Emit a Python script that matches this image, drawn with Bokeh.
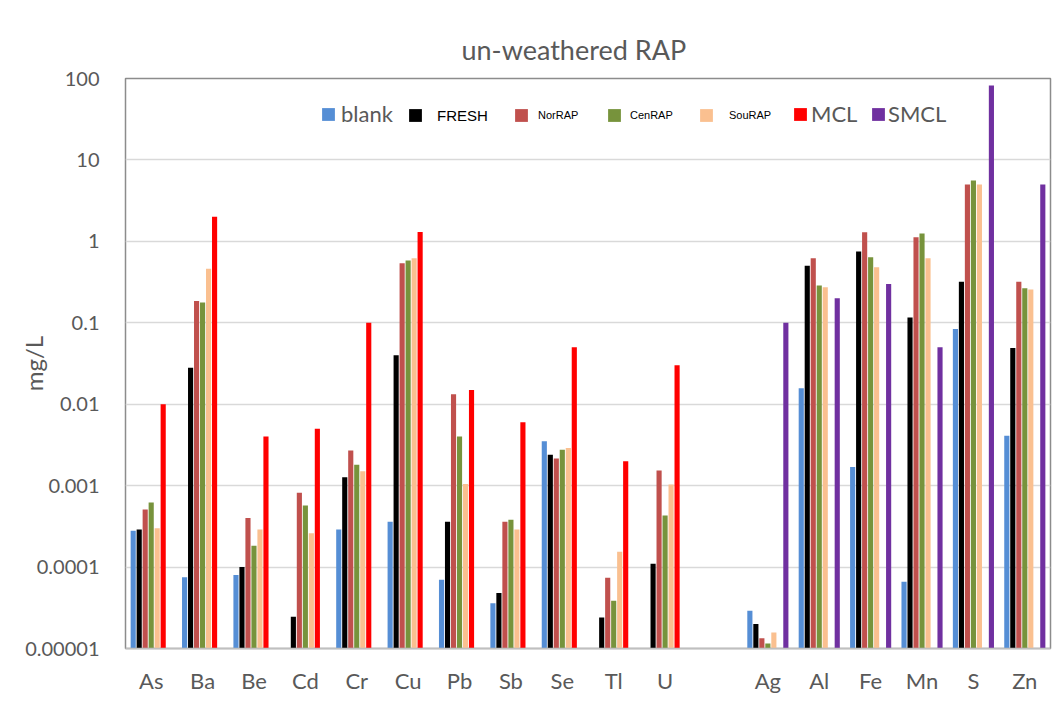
from bokeh.plotting import figure
from bokeh.models import (ColumnDataSource, FactorRange, Range1d, FixedTicker,
                          CustomJSTickFormatter, Legend, LegendItem)
from bokeh.transform import dodge
from bokeh.embed import file_html
from bokeh.resources import INLINE

nan = float("nan")

categories = ["As", "Ba", "Be", "Cd", "Cr", "Cu", "Pb", "Sb", "Se", "Tl", "U", " ",
              "Ag", "Al", "Fe", "Mn", "S", "Zn"]

blank = [0.00028, 0.000075, 0.00008, nan, 0.00029, 0.00036, 0.00007, 0.000036, 0.0035, nan, nan, nan,
         0.000029, 0.0157, 0.0017, 0.000066, 0.084, 0.0041]
fresh = [0.00029, 0.028, 0.0001, 0.0000245, 0.00127, 0.040, 0.00036, 0.000048, 0.0024, 0.000024, 0.00011, nan,
         0.00002, 0.50, 0.75, 0.116, 0.32, 0.049]
norrap = [0.00051, 0.185, 0.0004, 0.00082, 0.0027, 0.54, 0.0133, 0.00036, 0.00215, 0.000074, 0.00153, nan,
          0.0000134, 0.62, 1.29, 1.12, 5.0, 0.32]
cenrap = [0.00062, 0.178, 0.000183, 0.00057, 0.0018, 0.58, 0.004, 0.00038, 0.00275, 0.0000385, 0.00043, nan,
          0.0000115, 0.286, 0.64, 1.25, 5.6, 0.265]
sourap = [0.0003, 0.46, 0.00029, 0.00026, 0.0015, 0.62, 0.00105, 0.00029, 0.0029, 0.000154, 0.00103, nan,
          0.0000157, 0.274, 0.48, 0.62, 5.0, 0.257]
mcl = [0.01, 2.0, 0.004, 0.005, 0.1, 1.3, 0.015, 0.006, 0.05, 0.002, 0.03, nan,
       nan, nan, nan, nan, nan, nan]
smcl = [nan, nan, nan, nan, nan, nan, nan, nan, nan, nan, nan, nan,
        0.1, 0.2, 0.3, 0.05, 82.0, 5.0]

series_names = ["blank", "FRESH", "NorRAP", "CenRAP", "SouRAP", "MCL", "SMCL"]
series_values = [blank, fresh, norrap, cenrap, sourap, mcl, smcl]
series_colors = ["#558ED5", "#000000", "#C0504D", "#77933C", "#FAC090", "#FF0000", "#7030A0"]

y_ticks = [1e-5, 1e-4, 1e-3, 1e-2, 1e-1, 1, 10, 100]

TEXT = "#595959"
FONT = "Lato"

src = ColumnDataSource(dict(cat=categories, **{n: v for n, v in zip(series_names, series_values)}))

p = figure(width=1058, height=705, x_range=FactorRange(*categories),
           y_range=Range1d(1e-5, 100), y_axis_type="log",
           output_backend="svg", toolbar_location=None,
           min_border_left=125, min_border_right=8, min_border_top=78, min_border_bottom=57)

p.title.text = "un-weathered RAP"
p.title.align = "left"
p.title.text_font = FONT
p.title.text_font_size = "27px"
p.title.text_font_style = "normal"
p.title.text_color = TEXT
p.title.offset = 336
p.title.standoff = 26

p.outline_line_color = "#8c8c8c"
p.outline_line_width = 1.5
p.background_fill_color = "white"
p.border_fill_color = "white"

p.xgrid.grid_line_color = None
p.ygrid.grid_line_color = "#d9d9d9"
p.ygrid.grid_line_width = 1.5
p.yaxis.ticker = FixedTicker(ticks=y_ticks, minor_ticks=[])
p.yaxis.formatter = CustomJSTickFormatter(code="""
const e = Math.round(Math.log10(tick));
if (e >= 0) { return String(Math.round(Math.pow(10, e))); }
return "0." + "0".repeat(-e - 1) + "1";
""")

for ax in (p.xaxis[0], p.yaxis[0]):
    ax.axis_line_color = None
    ax.major_tick_line_color = None
    ax.minor_tick_line_color = None
    ax.major_label_text_font = FONT
    ax.major_label_text_color = TEXT
p.xaxis.major_label_text_font_size = "22px"
p.yaxis.major_label_text_font_size = "20px"
p.yaxis.major_label_standoff = 20
p.xaxis.major_label_standoff = 12
p.xaxis.axis_line_color = "#bfbfbf"
p.xaxis.axis_line_width = 1.5

p.yaxis.axis_label = "mg/L"
p.yaxis.axis_label_text_font = FONT
p.yaxis.axis_label_text_font_size = "24px"
p.yaxis.axis_label_text_font_style = "normal"
p.yaxis.axis_label_text_color = TEXT
p.yaxis.axis_label_standoff = -26

step = 0.1167
renderers = []
for i, (name, col) in enumerate(zip(series_names, series_colors)):
    r = p.vbar(x=dodge("cat", (i - 3) * step, range=p.x_range), top=name, bottom=1e-5,
               width=0.1, source=src, fill_color=col, line_color=None)
    renderers.append(r)

# legends, each entry with its own label style
leg_x = [195, 282, 388, 481, 573, 667, 745]
leg_size = ["22px", "15px", "11px", "11px", "11px", "22px", "22px"]
leg_font = [FONT, "Liberation Sans", "Liberation Sans", "Liberation Sans", "Liberation Sans", FONT, FONT]
leg_color = [TEXT, "#000000", "#000000", "#000000", "#000000", TEXT, TEXT]
leg_standoff = [5, 14, 9, 8, 15, 3, 2]
for i, name in enumerate(series_names):
    lg = Legend(items=[LegendItem(label=name, renderers=[renderers[i]])],
                location=(leg_x[i], 521), orientation="horizontal",
                glyph_width=16, glyph_height=16, label_standoff=leg_standoff[i],
                label_text_font=leg_font[i], label_text_font_size=leg_size[i],
                label_text_color=leg_color[i], label_height=24,
                padding=0, margin=0, spacing=0,
                border_line_color=None, background_fill_alpha=0)
    p.add_layout(lg, "center")

open("out.html", "w").write(file_html(p, INLINE))
